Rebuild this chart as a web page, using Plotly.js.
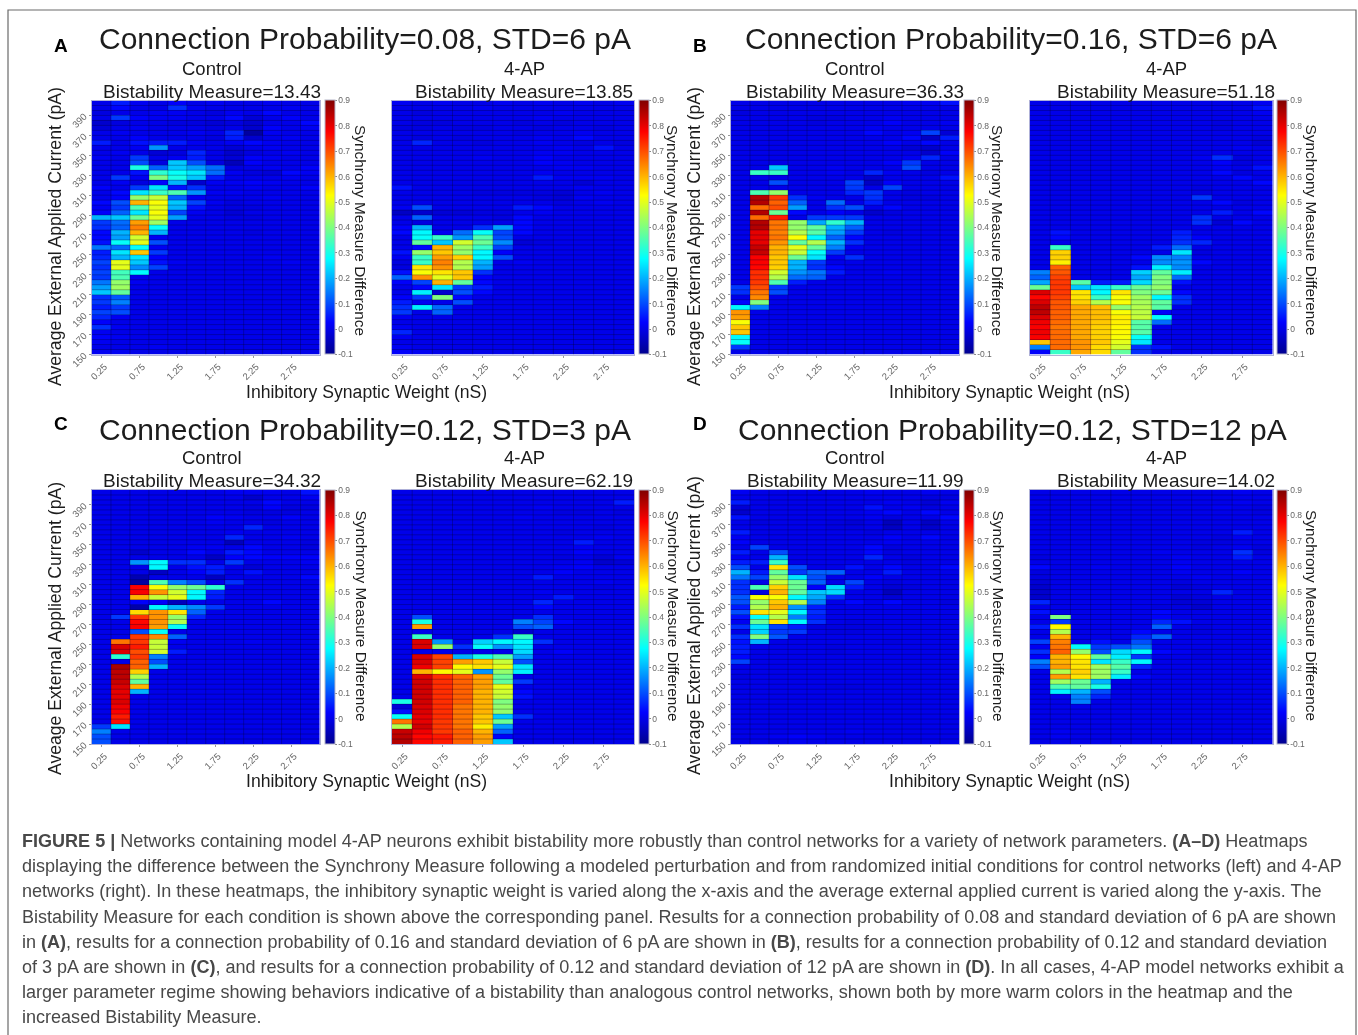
<!DOCTYPE html>
<html><head><meta charset="utf-8">
<script src="https://cdn.plot.ly/plotly-3.0.1.min.js"></script>
<style>html,body{margin:0;padding:0;background:#fff}#g{width:1358px;height:1035px;filter:blur(0.4px)}</style>
</head><body><div id="g"></div>
<script>
const weights=[0.25,0.5,0.75,1,1.25,1.5,1.75,2,2.25,2.5,2.75,3];
const currents=[402.5,397.5,392.5,387.5,382.5,377.5,372.5,367.5,362.5,357.5,352.5,347.5,342.5,337.5,332.5,327.5,322.5,317.5,312.5,307.5,302.5,297.5,292.5,287.5,282.5,277.5,272.5,267.5,262.5,257.5,252.5,247.5,242.5,237.5,232.5,227.5,222.5,217.5,212.5,207.5,202.5,197.5,192.5,187.5,182.5,177.5,172.5,167.5,162.5,157.5,152.5];
const xTicks=[0.25,0.75,1.25,1.75,2.25,2.75];
const yTicks=[150,170,190,210,230,250,270,290,310,330,350,370,390];
const cbTicks=[-0.1,0,0.1,0.2,0.3,0.4,0.5,0.6,0.7,0.8,0.9];
const bistability=["13.43","13.85","36.33","51.18","34.32","62.19","11.99","14.02"];
const headings=["Connection Probability=0.08, STD=6 pA","Connection Probability=0.16, STD=6 pA","Connection Probability=0.12, STD=3 pA","Connection Probability=0.12, STD=12 pA"];
const letters=["A","B","C","D"];
const yTitles=["Average External Applied Current (pA)","Average External Applied Current (pA)","Aveage External Applied Current (pA)","Average External Applied Current (pA)"];
const caption=[
"<b>FIGURE 5 |</b> Networks containing model 4-AP neurons exhibit bistability more robustly than control networks for a variety of network parameters. <b>(A–D)</b> Heatmaps",
"displaying the difference between the Synchrony Measure following a modeled perturbation and from randomized initial conditions for control networks (left) and 4-AP",
"networks (right). In these heatmaps, the inhibitory synaptic weight is varied along the x-axis and the average external applied current is varied along the y-axis. The",
"Bistability Measure for each condition is shown above the corresponding panel. Results for a connection probability of 0.08 and standard deviation of 6 pA are shown",
"in <b>(A)</b>, results for a connection probability of 0.16 and standard deviation of 6 pA are shown in <b>(B)</b>, results for a connection probability of 0.12 and standard deviation",
"of 3 pA are shown in <b>(C)</b>, and results for a connection probability of 0.12 and standard deviation of 12 pA are shown in <b>(D)</b>. In all cases, 4-AP model networks exhibit a",
"larger parameter regime showing behaviors indicative of a bistability than analogous control networks, shown both by more warm colors in the heatmap and the",
"increased Bistability Measure."];
// values below are hundredths of the Synchrony Measure Difference; rows run top to bottom
const aControl=[
[0,5,1,0,2,0,1,0,0,1,0,0],[0,3,0,0,7,1,0,0,0,0,1,0],[-1,0,0,1,1,0,-1,1,0,3,0,0],[0,8,2,1,1,0,0,3,-2,0,2,0],[-3,-1,0,0,-1,-1,-2,-1,-3,0,0,3],
[-2,0,1,0,0,0,-1,0,-3,2,0,1],[0,1,0,0,0,1,0,6,-8,1,0,0],[0,0,2,0,0,0,-1,5,-3,0,1,0],[5,0,4,5,5,1,0,1,3,1,0,0],[0,0,1,17,0,0,0,-2,0,1,0,0],
[0,1,0,-2,-1,6,0,-3,-1,0,1,0],[1,0,8,0,1,5,0,-2,2,1,0,0],[0,0,10,-1,22,10,-1,-5,2,0,0,0],[0,0,30,12,22,18,13,-1,0,1,0,2],[0,0,4,32,28,25,13,1,-1,-2,3,1],
[0,8,1,40,30,22,5,0,0,0,1,0],[0,1,-1,3,20,-3,1,1,2,1,0,0],[2,0,8,25,4,7,0,0,1,0,0,2],[0,3,25,33,35,17,1,1,0,0,0,0],[0,2,42,47,12,1,0,0,0,1,0,0],
[3,10,60,52,22,9,1,-1,0,0,0,0],[1,8,35,50,20,4,0,-1,-1,0,0,0],[2,12,25,52,9,1,0,-2,0,0,0,0],[20,22,38,50,18,0,0,-1,-1,0,0,0],[8,13,62,43,0,0,0,0,0,0,0,0],
[7,12,65,28,0,0,0,0,0,0,0,0],[3,20,60,20,0,0,0,0,-1,0,0,0],[3,18,48,1,0,0,0,0,0,0,0,0],[4,28,50,10,0,0,0,0,0,0,0,0],[14,13,28,1,0,0,0,0,0,0,0,0],
[5,25,58,8,0,0,0,0,0,0,0,0],[6,20,25,2,0,0,0,0,0,1,0,0],[9,50,22,4,1,0,0,0,0,0,1,0],[7,50,16,9,0,0,0,0,0,0,0,0],[9,34,27,0,0,0,0,0,0,0,0,0],
[8,35,0,0,0,0,0,0,0,0,0,0],[14,42,1,0,0,0,0,0,0,0,0,0],[18,43,0,0,0,0,0,0,0,0,0,0],[22,37,0,0,0,0,0,0,0,0,0,0],[7,11,0,0,0,0,0,0,0,0,0,0],
[8,15,0,0,0,0,0,0,0,0,0,0],[5,8,0,0,0,0,0,0,0,0,0,0],[9,10,0,0,0,0,0,0,0,0,0,0],[6,1,0,0,0,0,0,0,0,0,0,0],[2,0,0,0,0,0,0,0,0,0,0,0],
[7,1,0,0,0,0,0,0,0,0,0,0],[1,0,0,0,0,0,0,0,0,0,0,0],[2,1,0,0,0,0,0,0,0,0,0,0],[1,0,0,0,0,0,0,0,0,0,0,0],[0,0,0,1,0,0,0,0,0,0,0,0],[1,1,0,0,0,0,0,0,0,0,0,0]];
const aDrug=[
[1,0,1,0,0,1,0,1,0,1,0,1],[0,0,0,0,1,0,0,0,0,0,0,0],[0,-1,0,0,0,0,0,0,1,0,0,0],[0,0,0,0,0,0,0,1,0,0,0,0],[0,-1,-1,0,0,0,-1,0,-1,0,0,0],
[-1,-1,0,-1,-1,0,0,-1,0,0,-1,0],[0,0,0,0,0,0,-1,0,0,1,0,0],[0,-1,0,-1,0,0,0,1,0,3,0,0],[0,6,0,0,-1,0,0,1,0,-1,0,-1],[0,0,0,0,0,0,0,0,1,0,4,0],
[0,0,0,0,0,0,0,1,1,0,0,0],[0,0,0,0,1,0,0,2,0,0,0,0],[0,0,0,0,0,0,0,2,1,0,0,0],[0,0,0,0,0,0,0,0,1,1,0,0],[0,0,0,0,0,0,0,1,0,0,0,0],
[0,0,0,0,0,0,0,5,1,1,1,0],[0,0,0,0,0,0,0,0,0,-2,0,0],[4,0,0,0,0,0,0,0,0,1,0,0],[0,0,0,0,-1,-1,-1,-1,-2,0,1,0],[0,0,0,0,0,0,0,-1,-2,1,0,0],
[0,0,0,0,0,0,0,0,-1,0,1,0],[1,10,0,0,0,0,5,3,0,0,0,0],[-4,-3,-2,-2,-1,-1,0,1,0,0,0,0],[0,12,0,0,0,-1,3,0,0,0,0,0],[0,-1,0,0,0,0,3,0,0,0,0,0],
[2,20,0,0,7,18,3,0,0,0,0,0],[3,27,1,13,28,9,3,0,0,0,0,0],[0,28,33,17,35,10,0,0,0,0,0,0],[0,37,22,48,38,16,-2,-1,0,0,0,0],[0,3,60,43,33,9,0,0,0,0,0,0],
[4,42,58,42,27,2,0,0,0,0,0,0],[1,33,62,57,27,10,0,0,0,0,0,0],[-1,33,65,45,20,0,1,0,0,0,0,0],[-1,55,63,45,18,0,0,0,0,0,0,0],[4,52,55,58,7,0,0,0,0,0,0,0],
[12,63,50,58,2,0,0,0,0,0,0,0],[2,9,60,37,3,0,0,0,0,0,0,0],[0,3,25,8,5,0,0,0,0,0,0,0],[0,26,-3,10,3,0,0,0,0,0,0,0],[2,8,40,3,0,0,0,0,0,0,0,0],
[5,1,0,10,0,0,0,0,0,0,0,0],[7,26,13,0,0,0,0,0,0,0,0,0],[8,0,12,0,0,0,0,0,0,0,0,0],[1,0,0,0,0,0,0,0,0,0,0,0],[0,0,0,0,0,0,0,0,0,0,0,0],
[1,0,0,0,0,0,0,0,0,0,0,0],[6,0,0,0,0,0,0,0,0,0,0,0],[1,0,0,0,0,0,0,0,0,0,0,0],[0,0,0,0,0,0,0,0,0,0,0,0],[1,0,0,0,0,0,0,0,0,0,0,0],[2,1,0,0,0,0,0,0,0,0,0,0]];
const bControl=[
[0,0,0,0,0,0,0,0,0,1,1,4],[0,0,0,0,0,0,0,0,0,0,0,0],[-1,0,0,0,0,0,0,0,0,0,0,0],[0,0,0,0,-1,-1,0,0,1,0,0,0],[0,0,0,0,-1,0,0,0,2,0,0,1],
[0,0,0,0,0,0,0,1,0,0,0,0],[0,0,0,0,0,0,0,3,0,1,9,-2],[0,0,0,0,0,0,0,0,0,3,-4,5],[0,0,0,0,0,0,0,0,2,0,3,0],[0,0,0,0,0,0,0,0,0,-2,-3,0],
[0,0,0,0,0,0,0,0,0,0,-3,2],[0,0,0,0,0,0,0,0,0,1,6,0],[0,0,0,0,0,0,0,0,2,8,0,0],[0,0,22,0,0,1,0,0,0,10,0,0],[0,33,33,0,0,1,0,6,1,0,-1,0],
[0,0,0,0,0,0,0,-3,0,0,0,4],[0,0,10,0,0,0,9,-4,2,0,0,0],[0,0,0,0,0,0,8,0,9,0,0,0],[0,35,42,0,0,0,6,8,0,-1,0,0],[0,85,72,7,1,0,0,7,0,-1,-1,0],
[0,85,68,12,0,13,0,5,0,0,0,0],[0,67,70,18,0,7,10,0,3,0,0,0],[0,85,38,3,0,2,0,-3,-1,0,0,0],[0,67,75,0,8,8,8,0,0,0,0,0],[0,85,66,42,19,32,20,0,0,0,0,0],
[0,85,66,42,37,20,12,0,0,0,0,0],[0,80,65,45,36,18,8,0,-1,0,0,0],[0,80,66,52,27,12,3,0,0,0,0,0],[0,80,63,37,45,20,7,0,0,0,0,0],[0,83,60,50,37,15,1,0,0,0,0,0],
[0,83,60,47,28,8,0,0,0,0,0,0],[0,78,58,38,25,1,7,0,0,0,0,0],[0,78,58,20,8,0,0,0,0,0,0,0],[0,77,57,20,7,3,0,0,0,0,0,0],[0,73,48,17,14,5,0,0,1,0,0,0],
[0,73,45,13,12,0,0,0,0,0,0,0],[0,72,35,5,0,0,0,0,0,0,0,0],[8,70,8,0,0,0,0,0,0,0,0,0],[7,66,10,0,0,0,0,0,0,0,0,0],[0,64,0,0,0,0,0,0,0,0,0,0],
[3,40,0,0,0,0,0,0,0,0,0,0],[27,15,0,0,0,0,0,0,0,0,0,0],[63,0,0,0,0,0,0,0,0,0,0,0],[62,0,0,0,0,0,0,0,0,0,0,0],[52,0,0,0,0,0,0,0,0,0,0,0],
[58,0,0,0,0,0,0,0,0,0,0,0],[58,0,0,0,0,0,0,0,0,0,0,0],[27,0,0,0,0,0,0,0,0,0,0,0],[28,0,0,0,0,0,0,0,0,0,0,0],[8,0,0,0,0,0,0,0,0,0,0,0],[0,0,0,0,0,0,0,0,0,0,0,0]];
const bDrug=[
[0,0,0,0,0,0,0,0,0,0,0,1],[0,0,0,0,0,0,0,0,0,0,0,4],[0,0,0,0,0,0,0,0,0,0,0,1],[0,0,0,0,0,0,0,0,0,0,0,0],[0,0,0,0,0,0,0,0,0,-1,0,0],
[0,0,0,0,0,0,0,0,0,-1,0,0],[0,0,0,0,0,0,0,0,0,0,0,0],[0,0,0,0,0,0,0,0,0,0,0,-1],[0,0,0,0,0,0,0,0,0,0,0,-2],[0,0,0,0,0,0,0,0,0,0,1,0],
[0,0,0,0,0,0,0,0,0,0,0,0],[0,0,0,0,0,0,0,0,1,7,-1,0],[0,0,0,0,0,0,0,0,0,2,-1,0],[0,0,0,0,0,0,0,0,0,1,0,4],[0,0,0,0,0,0,0,0,0,3,-1,0],
[0,0,0,0,0,0,0,0,0,0,3,0],[0,0,0,0,0,0,0,0,0,0,0,3],[0,0,0,0,0,0,0,0,-1,0,0,0],[0,0,0,0,0,0,0,0,-1,0,0,0],[0,0,0,0,0,0,0,0,8,0,0,0],
[0,0,0,0,0,0,0,0,0,3,-1,0],[0,0,0,0,0,0,0,0,0,0,0,0],[0,0,0,0,0,0,0,0,0,5,0,3],[0,0,0,0,0,0,0,0,7,0,0,0],[0,0,0,0,0,0,0,0,7,-2,3,0],
[0,0,0,0,0,0,0,0,0,0,0,0],[0,4,0,0,0,0,0,5,0,0,0,0],[0,3,0,0,0,0,0,6,2,0,0,0],[0,0,0,0,0,0,0,7,6,0,0,0],[0,33,0,0,0,0,5,13,0,0,0,0],
[0,57,0,0,0,0,0,25,-1,0,0,0],[0,57,0,0,0,3,16,15,0,0,0,0],[0,54,0,0,0,0,16,17,3,0,0,0],[0,68,0,0,0,4,26,16,0,0,0,0],[15,69,0,0,0,23,37,26,0,0,0,0],
[12,71,0,0,0,19,40,13,0,0,0,0],[19,72,36,5,5,24,40,4,0,0,0,0],[38,72,22,25,33,38,42,0,0,0,0,0],[81,72,55,27,55,40,38,3,0,0,0,0],[77,71,55,33,52,43,27,7,0,0,0,0],
[81,69,57,45,52,44,37,7,0,0,0,0],[84,69,61,59,42,45,36,0,0,0,0,0],[84,68,61,59,52,46,2,0,0,0,0,0],[81,68,61,59,54,47,27,0,0,0,0,0],[79,67,61,58,54,36,13,0,0,0,0,0],
[78,66,61,57,53,36,0,0,0,0,0,0],[79,67,61,57,53,36,0,0,0,0,0,0],[78,67,61,57,52,28,0,0,0,0,0,0],[58,67,63,58,50,25,0,0,0,0,0,0],[15,67,63,56,48,7,4,0,0,0,0,0],[2,33,61,56,37,7,0,0,0,0,0,0]];
const cControl=[
[0,0,0,0,0,0,0,1,1,1,0,4],[0,0,0,0,0,0,0,0,-3,0,0,1],[0,0,0,0,0,0,0,0,0,3,0,0],[0,0,0,0,0,0,0,0,-1,2,-1,-1],[0,0,0,0,0,0,0,0,-1,-1,-1,0],
[0,0,0,0,0,0,2,1,0,0,2,0],[0,0,0,0,0,0,1,0,0,-1,0,0],[0,0,0,0,0,0,0,0,6,0,0,0],[0,0,0,0,0,0,0,1,0,0,0,0],[0,0,0,0,0,0,0,6,0,0,1,0],
[0,0,0,0,0,0,0,-5,0,0,0,-1],[0,0,0,0,0,1,1,0,3,0,0,-1],[0,0,-3,0,0,3,0,5,3,0,0,0],[0,0,0,0,0,0,-4,2,3,2,2,2],[0,0,17,27,7,7,0,8,0,0,0,1],
[0,0,0,27,0,4,5,0,-2,0,0,0],[0,0,0,-4,0,2,5,0,4,0,0,0],[0,0,-6,0,0,0,-4,0,0,0,0,3],[0,0,-8,35,15,10,0,7,0,0,0,0],[0,0,78,52,42,38,32,0,0,0,0,0],
[0,0,78,63,48,27,6,0,0,0,0,0],[0,0,60,47,50,27,5,0,0,0,0,0],[0,0,2,2,-5,0,0,0,0,3,0,0],[0,0,-7,27,20,16,8,0,0,0,0,0],[0,0,56,63,55,12,0,0,0,0,0,0],
[0,8,72,63,42,6,0,0,0,0,0,0],[0,0,77,63,45,0,0,0,0,0,0,0],[0,0,78,62,28,0,0,0,0,0,0,0],[0,0,10,28,0,0,0,0,0,0,0,0],[0,0,72,64,12,0,0,0,0,0,0,0],
[0,66,72,47,1,0,0,0,1,0,0,0],[0,81,75,47,0,0,0,0,0,0,0,0],[0,81,70,48,5,0,0,0,0,0,0,0],[0,32,72,15,0,0,0,0,0,0,0,0],[0,0,68,10,0,0,0,0,0,0,0,0],
[0,86,68,20,0,0,0,0,0,0,0,0],[0,84,57,0,0,0,0,0,0,0,0,0],[0,84,45,0,0,0,0,0,0,0,0,0],[0,83,37,0,0,0,0,0,0,0,0,0],[0,81,60,0,0,0,0,0,0,0,0,0],
[0,80,20,0,0,0,0,0,0,0,0,0],[0,80,0,0,0,0,0,0,0,0,0,0],[0,81,0,0,0,0,0,0,0,0,0,0],[0,79,0,0,0,0,0,0,0,0,0,0],[0,78,0,0,0,0,0,0,0,0,0,0],
[0,75,0,0,0,0,0,0,0,0,0,0],[0,76,0,0,0,0,0,0,0,0,0,0],[8,25,0,0,0,0,0,0,0,0,0,0],[15,0,0,0,0,0,0,0,0,0,0,0],[10,0,0,0,0,0,0,0,0,0,0,0],[10,0,0,0,0,0,0,0,0,0,0,0]];
const cDrug=[
[0,0,0,0,0,0,0,0,0,0,0,0],[0,0,0,0,0,0,0,0,0,0,0,0],[0,0,0,0,0,0,0,0,0,0,0,5],[0,0,0,0,0,0,0,1,0,0,0,0],[0,0,0,0,0,0,0,0,-1,-1,0,-1],
[0,0,0,0,0,0,1,0,0,0,0,0],[0,0,0,0,0,0,0,0,0,0,0,0],[0,0,0,0,0,0,0,0,0,0,-1,0],[0,0,0,0,0,0,0,0,-1,0,0,0],[0,0,0,0,0,0,0,0,0,0,1,0],
[0,0,0,0,0,0,0,0,0,5,0,0],[0,0,0,0,0,0,0,0,0,1,0,0],[0,0,0,0,0,0,0,0,0,2,0,0],[0,0,0,0,0,0,0,0,-1,0,-2,1],[0,0,0,0,0,0,0,0,0,1,-3,-2],
[0,0,0,0,0,0,0,0,1,2,0,0],[0,0,0,0,0,0,0,0,2,0,0,0],[0,0,0,0,0,0,0,5,0,0,0,0],[0,0,0,0,0,0,0,0,0,0,1,0],[0,0,0,0,0,0,0,0,0,0,-1,0],
[0,0,0,0,0,0,0,1,0,0,0,0],[0,0,0,0,0,0,0,0,5,0,0,0],[0,0,0,0,0,0,0,6,0,0,0,0],[0,0,0,0,0,0,0,3,0,0,0,0],[0,0,0,0,0,0,0,0,0,0,0,0],
[0,10,0,0,0,0,0,7,0,0,0,0],[0,30,0,0,0,0,15,9,3,0,0,0],[0,62,0,0,0,0,10,12,0,0,0,0],[0,0,0,0,0,0,-3,0,0,0,0,0],[0,33,0,0,0,7,33,0,0,0,0,0],
[0,81,17,0,23,27,27,7,0,0,0,0],[0,81,42,7,28,17,25,0,0,0,0,0],[0,0,0,0,0,0,24,0,2,0,0,0],[0,81,71,20,30,35,18,0,0,0,0,0],[0,81,71,62,58,47,10,0,0,0,0,0],
[0,79,71,53,55,50,25,0,0,0,0,0],[0,60,53,50,17,42,26,0,0,0,0,0],[0,81,73,68,62,38,0,0,0,0,0,0],[0,82,73,68,62,37,8,0,0,0,0,0],[0,82,73,68,62,50,0,0,0,0,0,0],
[0,82,73,68,60,48,3,0,0,0,0,0],[0,82,73,68,60,47,4,0,0,0,0,0],[30,82,73,68,60,40,0,0,0,0,0,0],[-2,81,73,66,60,42,0,0,0,0,0,0],[4,81,73,66,60,42,0,0,0,0,0,0],
[28,80,73,66,58,22,7,0,0,0,0,0],[66,80,72,66,58,38,0,0,0,0,0,0],[45,82,72,66,54,18,0,0,0,0,0,0],[83,79,72,68,60,12,0,0,0,0,0,0],[84,77,75,68,62,2,0,0,0,0,0,0],[85,77,75,68,62,22,0,0,0,0,0,0]];
const dControl=[
[1,0,0,0,0,0,0,1,0,0,1,0],[0,0,0,0,0,0,0,0,0,0,-1,-1],[5,0,0,0,0,0,0,0,1,0,-2,1],[-2,0,0,0,0,0,0,4,0,1,-1,0],[-3,0,0,0,0,0,0,1,3,0,3,0],
[4,0,0,0,0,0,0,1,-1,0,0,3],[0,-1,0,0,0,-1,-2,0,-5,0,-4,0],[0,0,0,0,0,-1,-1,0,-4,0,-3,0],[5,0,0,0,0,0,0,-1,0,0,0,0],[1,0,0,0,0,0,0,0,2,0,3,0],
[2,0,0,0,0,0,0,0,1,0,0,0],[0,9,0,0,0,0,0,3,-1,0,0,0],[5,0,10,0,0,0,0,3,-1,0,0,0],[1,0,20,0,0,0,0,6,0,-1,0,0],[5,5,33,0,0,0,0,0,0,-1,0,0],
[10,0,55,10,0,0,4,0,3,0,0,3],[20,5,37,8,12,12,0,0,5,0,0,0],[14,9,42,25,10,0,0,2,0,0,0,0],[7,0,47,38,12,0,9,0,-1,0,0,0],[7,35,57,38,2,24,5,0,-2,-1,0,0],
[7,-1,60,37,22,24,0,0,-5,0,0,0],[11,52,52,27,19,7,0,0,-2,0,0,0],[10,42,58,45,15,0,3,0,3,0,0,-1],[5,45,60,17,5,0,0,0,0,0,0,0],[10,55,50,27,7,0,0,0,0,0,0,0],
[4,28,45,15,5,0,0,0,0,0,0,0],[1,38,55,27,7,0,-1,0,0,0,0,0],[7,25,9,5,-1,-1,-1,-1,0,0,0,0],[0,23,8,8,0,-1,-1,0,0,0,0,0],[7,40,11,0,0,0,0,0,0,0,0,0],
[4,20,0,0,0,0,0,0,-1,0,0,0],[5,0,0,0,0,-1,0,0,0,0,0,0],[5,0,0,0,0,-1,0,0,0,0,0,0],[3,0,0,0,0,0,0,0,0,0,0,0],[9,0,0,0,0,0,0,0,0,0,0,0],
[0,0,0,0,0,0,0,0,0,0,0,0],[0,0,0,0,0,0,0,0,0,0,0,0],[-1,0,0,0,0,0,0,0,0,0,0,0],[0,0,0,0,0,0,0,0,0,0,0,0],[0,0,0,0,0,-1,-1,0,0,0,0,0],
[0,0,0,0,0,0,0,0,0,0,0,0],[0,0,0,0,0,0,0,0,0,0,0,0],[0,0,0,0,0,0,0,0,0,0,0,0],[0,0,0,0,0,0,0,0,0,0,0,0],[0,0,0,0,0,0,0,0,0,0,0,0],
[0,0,0,0,0,0,0,0,0,0,0,0],[0,0,0,0,0,0,0,0,0,0,0,0],[0,0,0,0,0,0,0,0,0,0,0,0],[0,0,0,0,0,0,1,0,0,0,0,0],[0,0,1,2,1,0,0,0,0,0,0,0],[0,0,0,1,0,0,0,0,0,0,0,0]];
const dDrug=[
[0,0,0,0,0,0,0,0,0,0,1,0],[0,0,0,0,0,0,0,0,0,0,0,0],[0,0,0,0,0,0,0,0,0,0,1,0],[0,0,0,0,0,0,0,0,0,1,0,-1],[0,0,0,0,0,0,0,0,0,0,0,-1],
[0,0,0,0,0,0,0,0,0,0,0,0],[0,0,0,0,0,0,0,0,0,0,0,0],[0,0,0,0,0,0,0,0,0,0,0,0],[0,0,0,0,0,0,0,0,0,0,5,0],[0,0,0,0,0,0,0,0,0,-1,1,0],
[0,0,0,0,0,0,0,0,-1,-1,0,0],[0,0,0,0,0,0,0,0,-1,0,1,-1],[0,0,0,0,0,0,1,0,0,0,7,-1],[-1,0,0,0,0,0,0,1,0,0,5,0],[0,0,0,0,0,0,0,1,0,0,0,0],
[3,0,0,1,0,0,0,2,0,0,0,0],[-1,0,0,0,0,0,0,1,0,0,2,0],[-1,0,0,0,0,0,0,0,1,0,0,0],[-2,0,0,0,0,0,0,-1,0,0,0,0],[-3,0,0,0,0,0,0,-2,-1,0,0,0],
[-3,0,0,0,0,0,0,0,0,6,0,0],[-3,0,0,0,0,0,0,-2,-1,0,0,0],[6,0,0,0,0,0,0,-2,-2,0,0,0],[0,0,0,0,0,0,-1,-1,-3,0,0,0],[4,0,0,0,0,0,3,0,0,0,0,0],
[0,40,0,0,0,0,2,0,0,0,0,0],[0,8,0,0,0,0,6,4,0,0,0,0],[5,53,0,0,0,0,12,0,-1,0,0,0],[0,45,0,0,0,3,0,0,-1,0,0,0],[0,60,0,0,0,6,12,0,0,0,0,0],
[9,65,0,4,0,10,0,0,0,0,0,0],[1,66,27,8,10,14,0,0,0,0,0,0],[7,68,42,10,24,27,3,1,-1,0,0,0],[2,60,53,37,26,8,0,0,-1,0,0,0],[15,60,55,25,33,27,0,0,0,0,0,0],
[10,62,55,43,36,6,0,0,0,0,0,0],[0,45,57,43,33,0,0,0,0,0,0,0],[0,62,55,43,26,3,0,0,0,0,0,0],[0,43,38,20,0,0,0,0,0,0,0,0],[0,35,37,30,0,0,0,0,0,0,0,0],
[0,26,20,10,0,0,0,0,0,0,0,0],[0,0,15,6,0,0,0,0,0,0,0,0],[0,0,15,0,0,0,0,0,0,0,0,0],[0,0,0,0,0,0,0,0,0,0,0,0],[0,0,0,0,0,0,0,0,0,0,0,0],
[0,0,0,0,0,0,0,0,0,0,0,0],[0,0,0,0,0,0,0,0,0,0,0,0],[0,0,0,0,0,0,0,0,0,0,0,0],[0,1,0,0,0,0,0,0,0,0,0,0],[0,1,0,0,0,0,0,0,0,0,0,0],[0,0,0,0,0,0,0,0,0,0,0,0]];
const panels=[aControl,aDrug,bControl,bDrug,cControl,cDrug,dControl,dDrug];

// ---- layout geometry (pixels) ----
const W=1358,H=1035,FONT='"Liberation Sans",Arial,sans-serif';
const px=v=>v/W, py=v=>1-v/H;
const boxX=[[92,319.5,325,361,212],[392,634,639,673,524],[731,959,963.5,998,855],[1030,1272.5,1277,1311.5,1166]];
const boxY=[[100.5,354.5],[490,744]];
const jet=[[0,'rgb(0,0,143)'],[0.125,'rgb(0,0,255)'],[0.375,'rgb(0,255,255)'],[0.625,'rgb(255,255,0)'],[0.875,'rgb(255,0,0)'],[1,'rgb(128,0,0)']];
const traces=[],shapes=[],ann=[],layout={};
function text(x,y,t,size,opt){ann.push(Object.assign({xref:'paper',yref:'paper',x:px(x),y:py(y),text:t,showarrow:false,xanchor:'center',yanchor:'middle',font:{family:FONT,size:size,color:'#1c1c1c'}},opt||{}));}
panels.forEach((vals,i)=>{
  const col=i%4, row=i<4?0:1, b=boxX[col], t=boxY[row];
  const n=i+1, xk='xaxis'+(n>1?n:''), yk='yaxis'+(n>1?n:''), xr='x'+(n>1?n:''), yr='y'+(n>1?n:'');
  traces.push({type:'heatmap',x:weights,y:currents,z:vals.map(r=>r.map(v=>v/100)),xaxis:xr,yaxis:yr,zmin:-0.1,zmax:0.9,zsmooth:false,colorscale:jet,hoverinfo:'skip',
    colorbar:{x:px(b[2]),xanchor:'left',xpad:0,ypad:0,y:py((t[0]+t[1])/2),yanchor:'middle',lenmode:'pixels',len:t[1]-t[0],thicknessmode:'pixels',thickness:9.5,
      tickvals:cbTicks,ticktext:cbTicks.map(String),ticks:'outside',ticklen:1.5,tickcolor:'#888',tickfont:{family:FONT,size:8.5,color:'#666'},outlinecolor:'#b5b5c8',outlinewidth:1}});
  layout[xk]={domain:[px(b[0]),px(b[1])],anchor:yr,range:[0.125,3.125],tickmode:'array',tickvals:xTicks,ticktext:xTicks.map(String),tickangle:-45,ticks:'outside',ticklen:2,tickcolor:'#999',ticklabelshift:3,tickfont:{family:FONT,size:9.5,color:'#666'},showgrid:false,zeroline:false,showline:true,mirror:true,linecolor:'#aeb0d8',linewidth:1};
  const ctl=col%2===0;
  layout[yk]={domain:[py(t[1]),py(t[0])],anchor:xr,range:[150,405],tickmode:'array',tickvals:ctl?yTicks:[],ticktext:ctl?yTicks.map(String):[],tickangle:-45,ticks:ctl?'outside':'',ticklen:2,tickcolor:'#999',ticklabelstandoff:3,tickfont:{family:FONT,size:9.5,color:'#666'},showgrid:false,zeroline:false,showline:true,mirror:true,linecolor:'#aeb0d8',linewidth:1};
  let d='';
  const xs=[0.125].concat(weights.map(v=>v+0.125)), ys=[405].concat(currents.map(v=>v-2.5));
  xs.slice(1,-1).forEach(v=>d+=`M${v},150L${v},405`);
  ys.slice(1,-1).forEach(v=>d+=`M0.125,${v}L3.125,${v}`);
  shapes.push({type:'path',xref:xr,yref:yr,path:d,line:{color:'rgba(0,0,40,0.38)',width:0.8},layer:'above'});
  text(b[4],t[0]-9,'Bistability Measure='+bistability[i],19);
  text(b[4],t[0]-32.5,col%2===0?'Control':'4-AP',18.5);
  text(b[3],row===0?230:615.5,'Synchrony Measure Difference',15.4,{textangle:90});
});
[[61,46,365,39,55,237,366,392],[700,46,1011,39,694,237,1009,392],[61,423,365,429,55,629,366,781],[700,423,1012,429,694,626,1009,781]].forEach((p,k)=>{
  text(p[0],p[1],'<b>'+letters[k]+'</b>',19,{font:{family:FONT,size:19,color:'#000'}});
  text(p[2],p[3],headings[k],30);
  text(p[4],p[5],yTitles[k],17.6,{textangle:-90});
  text(p[6],p[7],'Inhibitory Synaptic Weight (nS)',17.6);
});
[841,866,891,916.5,941.5,966.5,991.5,1017].forEach((y,k)=>{
  text(20,y,caption[k],18.05,{xanchor:'left',align:'left',font:{family:FONT,size:18.05,color:'#484848'}});
});
shapes.push({type:'path',xref:'paper',yref:'paper',path:`M${px(8)},${py(1040)}L${px(8)},${py(10)}L${px(1356)},${py(10)}L${px(1356)},${py(1040)}`,line:{color:'#6a6a6a',width:1.2}});
Object.assign(layout,{width:W,height:H,margin:{l:0,r:0,t:0,b:0},paper_bgcolor:'#fff',plot_bgcolor:'#fff',showlegend:false,font:{family:FONT},shapes:shapes,annotations:ann});
Plotly.newPlot('g',traces,layout,{staticPlot:true,displayModeBar:false});
</script></body></html>
